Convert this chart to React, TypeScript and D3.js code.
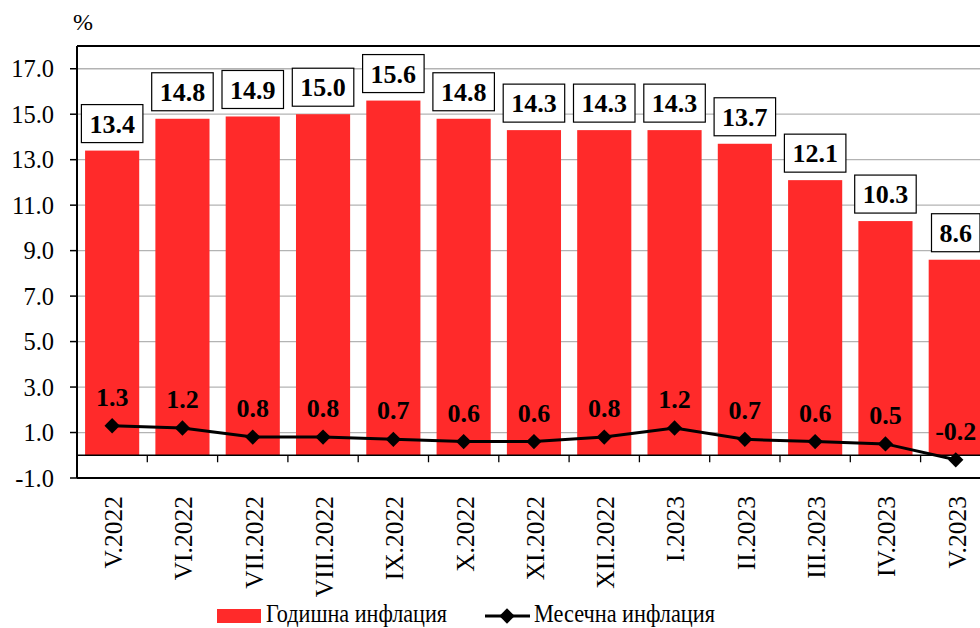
import * as d3 from 'd3';

const categories = [
  'V.2022', 'VI.2022', 'VII.2022', 'VIII.2022', 'IX.2022', 'X.2022', 'XI.2022',
  'XII.2022', 'I.2023', 'II.2023', 'III.2023', 'IV.2023', 'V.2023',
];
const annualInflation = [13.4, 14.8, 14.9, 15.0, 15.6, 14.8, 14.3, 14.3, 14.3, 13.7, 12.1, 10.3, 8.6];
const monthlyInflation = [1.3, 1.2, 0.8, 0.8, 0.7, 0.6, 0.6, 0.8, 1.2, 0.7, 0.6, 0.5, -0.2];
const yTicks = [-1, 1, 3, 5, 7, 9, 11, 13, 15, 17];
const legendLabels = ['Годишна инфлация', 'Месечна инфлация'];

const W = 980;
const H = 628;
const FONT = '"Liberation Serif", "DejaVu Serif", serif';
const RED = '#ff2a2a';

// hyphen minus like the original, not U+2212
const fmt = (v: number) => v.toFixed(1);

const App = () => {
  const left = 77;
  const top = 46;
  const bottom = 478;
  const step = 70.3;

  const x = d3
    .scaleBand<string>()
    .domain(categories)
    .range([left, left + step * categories.length])
    .padding(0);
  const bw = x.bandwidth() * 0.77;
  const cx = (c: string) => (x(c) ?? 0) + x.bandwidth() / 2;

  const y = d3.scaleLinear().domain([-1, 18]).range([bottom, top]);

  const line = d3
    .line<number>()
    .x((d, i) => cx(categories[i]))
    .y((d) => y(d));

  const diamond = d3.symbol().type(d3.symbolDiamond2).size(150)();

  // approximate width of a bold label, for its frame
  const labelWidth = (s: string) =>
    s.split('').reduce((w, ch) => w + (ch === '.' ? 6.5 : 13), 0) + 16;

  return (
    <div style={{ position: 'fixed', left: 0, top: 0 }}>
      <svg width={W} height={H} style={{ display: 'block', background: '#fff' }} fontFamily={FONT}>
        <text x={73} y={30} fontSize={24}>%</text>

        {/* gridlines */}
        {yTicks.filter((t) => t > -1).map((t) => (
          <line key={t} x1={left} x2={W} y1={y(t)} y2={y(t)} stroke="#b3b3b3" strokeWidth={1.3} />
        ))}

        {/* bars */}
        {categories.map((c, i) => (
          <rect
            key={c}
            x={cx(c) - bw / 2}
            y={y(annualInflation[i])}
            width={bw}
            height={y(0) - y(annualInflation[i])}
            fill={RED}
          />
        ))}

        {/* zero line and category ticks */}
        <line x1={left} x2={W} y1={y(0)} y2={y(0)} stroke="#000" strokeWidth={1.3} />
        {categories.slice(1).map((c) => (
          <line key={c} x1={x(c)} x2={x(c)} y1={y(0)} y2={y(0) + 7} stroke="#000" strokeWidth={1.3} />
        ))}

        {/* frame */}
        <line x1={left} x2={W} y1={top} y2={top} stroke="#000" strokeWidth={2} />
        <line x1={left} x2={W} y1={bottom} y2={bottom} stroke="#000" strokeWidth={2} />
        <line x1={left} x2={left} y1={top} y2={bottom} stroke="#000" strokeWidth={2} />

        {/* y axis */}
        {yTicks.map((t) => (
          <g key={t}>
            <line x1={left - 7} x2={left} y1={y(t)} y2={y(t)} stroke="#000" strokeWidth={1.5} />
            <text x={54} y={y(t)} dy="0.35em" textAnchor="end" fontSize={24.5}>
              {fmt(t)}
            </text>
          </g>
        ))}

        {/* annual labels in frames */}
        {categories.map((c, i) => {
          const s = fmt(annualInflation[i]);
          const w = labelWidth(s);
          const yb = y(annualInflation[i]) - 8;
          return (
            <g key={c}>
              <rect x={cx(c) - w / 2} y={yb - 38} width={w} height={38} fill="#fff" stroke="#000" strokeWidth={1.2} />
              <text x={cx(c)} y={yb - 19} dy="0.35em" textAnchor="middle" fontSize={26} fontWeight="bold">
                {s}
              </text>
            </g>
          );
        })}

        {/* monthly line */}
        <path d={line(monthlyInflation) ?? ''} fill="none" stroke="#000" strokeWidth={3} />
        {categories.map((c, i) => (
          <g key={c}>
            <path d={diamond ?? ''} transform={`translate(${cx(c)},${y(monthlyInflation[i])})`} fill="#000" />
            <text
              x={cx(c)}
              y={y(monthlyInflation[i]) - 29}
              dy="0.35em"
              textAnchor="middle"
              fontSize={26}
              fontWeight="bold"
            >
              {fmt(monthlyInflation[i])}
            </text>
          </g>
        ))}

        {/* x labels */}
        {categories.map((c) => (
          <text
            key={c}
            transform={`translate(${cx(c) + 1},496) rotate(-90)`}
            textAnchor="end"
            dy="0.35em"
            fontSize={25.5}
          >
            {c}
          </text>
        ))}

        {/* legend */}
        <rect x={217} y={609} width={44} height={14} fill={RED} />
        <text x={266} y={622} fontSize={24.5} textLength={181} lengthAdjust="spacingAndGlyphs">
          {legendLabels[0]}
        </text>
        <line x1={485} x2={530} y1={616} y2={616} stroke="#000" strokeWidth={3} />
        <path d={diamond ?? ''} transform="translate(507,616)" fill="#000" />
        <text x={534} y={622} fontSize={24.5} textLength={181} lengthAdjust="spacingAndGlyphs">
          {legendLabels[1]}
        </text>
      </svg>
    </div>
  );
};

export default App;
